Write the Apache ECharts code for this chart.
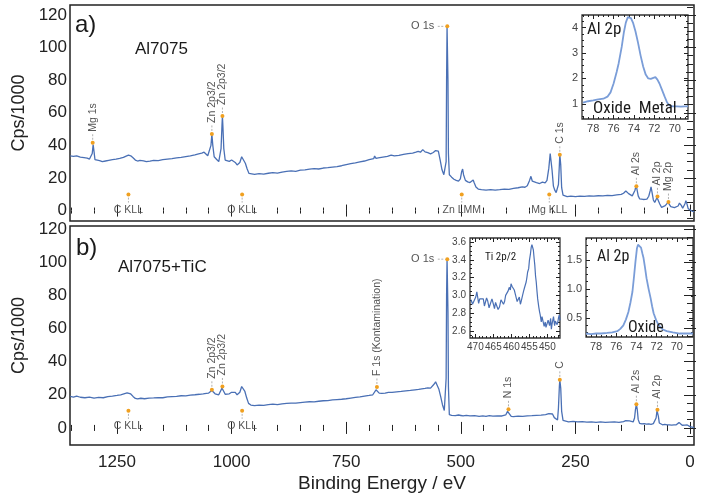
<!DOCTYPE html>
<html><head><meta charset="utf-8">
<script src="https://cdn.jsdelivr.net/npm/echarts@6/dist/echarts.min.js"></script>
<style>html,body{margin:0;padding:0;background:#fff}#c{width:708px;height:498px}</style>
</head><body><div id="c"></div>
<script>
// ---------- DATA ----------
// Panel a) Al7075 survey spectrum: [binding energy eV, Cps/1000]
const specA = [[1352,33.5],[1345,33.2],[1338,33.6],[1330,32.8],[1322,32.5],[1315,32.2],[1310,31.6],[1306,31.0],[1304,35],[1302,40.5],[1300,36],[1298,31.2],[1294,30.2],[1288,30.6],[1282,30.0],[1275,30.4],[1268,30.8],[1260,31.2],[1252,31.5],[1244,32.0],[1236,32.6],[1230,33.4],[1225,34.0],[1220,33.6],[1215,32.4],[1210,31.0],[1205,30.4],[1200,30.8],[1196,31.3],[1192,30.5],[1186,30.0],[1178,30.3],[1170,30.8],[1160,30.6],[1150,31.2],[1140,31.6],[1130,31.9],[1120,32.3],[1110,32.6],[1100,33.1],[1090,33.6],[1080,34.2],[1072,34.8],[1065,35.2],[1060,35.8],[1056,35.0],[1052,33.6],[1048,34.5],[1045,40],[1043,47],[1041,40],[1038,33],[1033,31.5],[1028,30.0],[1025,29.5],[1023,38],[1021,52],[1020,58],[1019,52],[1017,38],[1014,31],[1010,29.8],[1005,30.2],[1000,31.0],[996,31.4],[992,29.5],[988,28.0],[985,27.2],[982,29.5],[978,33.0],[975,32.4],[970,29],[966,25.5],[962,22.8],[958,22.0],[950,22.2],[940,22.6],[930,22.4],[920,22.9],[910,23.3],[900,23.0],[890,23.6],[880,24.0],[870,24.3],[860,24.1],[850,24.8],[840,25.0],[830,25.4],[820,25.7],[810,25.5],[800,26.1],[790,26.3],[780,26.7],[770,27.0],[760,27.5],[750,28.2],[740,28.8],[730,29.2],[720,29.8],[710,30.4],[700,31.2],[690,31.8],[688,33.5],[685,32.0],[680,32.3],[670,32.8],[660,33.2],[652,34.0],[645,33.5],[635,33.8],[625,34.5],[615,34.9],[605,35.2],[598,35.8],[593,36.3],[588,35.8],[583,37.4],[578,36.0],[572,35.5],[566,34.8],[560,35.6],[555,36.8],[552,37.8],[549,36.5],[545,31],[541,25],[537,22],[534,20.8],[532,30],[531,80],[530,113],[529,113],[528,80],[527,35],[525,22],[520,20.5],[515,19.2],[510,18.5],[505,18.0],[501,19.5],[498,24],[496,25.5],[494,22],[490,18.5],[485,17.6],[480,17.2],[476,17.6],[473,18.8],[471,17.2],[467,14.5],[462,13.2],[455,12.8],[445,12.6],[435,12.9],[425,12.5],[415,12.8],[405,13.2],[395,13.0],[385,13.6],[375,14.0],[366,14.6],[360,14.3],[355,15.2],[350,18.5],[347,21],[344,18.0],[340,16.8],[335,17.2],[328,16.6],[322,17.4],[316,17.0],[312,18.5],[308,26],[305,35],[303,34],[301,25],[298,15],[295,12.5],[292,11.0],[290,10.8],[287,16],[285,28],[284,34.5],[282,28],[280,14],[277,9.5],[274,8.7],[268,8.6],[260,8.8],[250,8.5],[240,8.9],[230,8.7],[220,9.0],[210,8.8],[200,9.1],[190,9.0],[180,9.3],[170,9.2],[160,9.6],[150,9.9],[145,10.6],[140,12.0],[137,12.4],[134,10.4],[130,9.3],[126,9.0],[123,9.6],[120,12.5],[118,15.0],[116,13.5],[113,9.0],[110,7.2],[106,6.6],[102,6.8],[98,6.6],[94,7.0],[90,8.8],[87,12.0],[85,14.5],[83,11.5],[80,6.5],[77,5.0],[74,5.6],[72,8.0],[71,8.7],[69,7.2],[66,4.0],[62,2.0],[58,2.2],[54,3.0],[50,4.2],[48,5.0],[46,4.6],[42,2.4],[38,1.6],[34,1.8],[30,1.7],[26,2.8],[23,4.6],[21,5.0],[19,3.2],[16,1.4],[13,2.2],[11,4.2],[9,6.0],[7,4.4],[4,1.2],[0,0.2],[-4,-0.3],[-9,-0.6]];

// Panel b) Al7075+TiC survey spectrum
const specB = [[1352,19.0],[1345,18.6],[1338,19.2],[1330,18.5],[1320,18.2],[1310,18.6],[1300,18.0],[1290,18.4],[1280,18.2],[1270,18.9],[1260,19.2],[1250,19.6],[1242,20.0],[1235,20.6],[1228,21.2],[1224,21.4],[1220,20.5],[1215,19.0],[1210,17.8],[1205,17.5],[1198,17.9],[1190,17.6],[1180,18.0],[1170,18.1],[1160,18.3],[1150,18.2],[1140,18.7],[1130,18.9],[1120,19.0],[1110,19.4],[1100,19.3],[1090,19.8],[1080,20.0],[1070,20.3],[1062,20.6],[1055,20.9],[1050,21.0],[1046,21.6],[1043,22.6],[1040,21.4],[1036,20.6],[1032,20.2],[1028,20.0],[1024,21.0],[1021,24.0],[1019,24.6],[1017,22],[1014,20.3],[1010,20.1],[1005,20.6],[1000,21.5],[996,22.3],[992,21.5],[988,20.0],[985,19.4],[982,21.5],[978,25.0],[975,25.2],[971,22],[967,18],[963,14.8],[958,13.8],[950,13.5],[940,13.8],[930,13.6],[920,14.0],[910,14.3],[900,14.1],[890,14.5],[880,14.8],[870,15.0],[860,14.9],[850,15.3],[840,15.6],[830,15.8],[820,15.7],[810,16.1],[800,16.4],[790,16.5],[780,16.9],[770,17.1],[760,17.3],[750,17.6],[740,18.0],[730,18.4],[720,18.7],[710,19.2],[700,19.6],[692,20.0],[688,20.4],[685,23.0],[683,24.0],[681,22.5],[678,21.0],[672,20.8],[665,21.0],[658,21.5],[650,21.4],[640,21.8],[630,22.0],[620,22.4],[610,22.6],[600,23.0],[592,23.2],[585,23.6],[578,23.8],[572,24.2],[566,24.0],[562,25.0],[558,26.5],[555,27.8],[552,27.0],[548,23.5],[544,19],[540,14],[536,10.5],[534,9.8],[532,30],[531,80],[530,102],[529,102],[528,70],[527,25],[525,8.0],[520,7.6],[512,7.4],[505,7.8],[500,7.5],[495,7.2],[488,7.6],[480,7.3],[470,7.4],[460,7.0],[452,7.3],[445,7.0],[438,7.4],[430,7.1],[420,7.3],[410,7.2],[402,7.8],[398,10.0],[396,11.2],[394,9.0],[390,7.0],[385,6.8],[375,7.1],[365,7.0],[355,7.3],[345,7.4],[335,7.6],[325,7.7],[315,8.0],[308,8.6],[304,9.0],[300,8.4],[296,6.2],[292,5.0],[289,4.8],[287,12],[285,25],[284,29],[282,24],[280,10],[277,4.5],[273,4.0],[265,3.7],[255,3.9],[245,3.6],[235,3.8],[225,3.5],[215,3.7],[205,3.4],[195,3.6],[185,3.4],[175,3.5],[165,3.6],[155,3.4],[145,3.8],[140,4.4],[136,5.0],[132,4.2],[128,3.4],[124,3.6],[121,6],[119,11],[117,14.3],[115,11],[113,5],[110,2.8],[105,2.4],[100,2.6],[95,2.3],[90,2.5],[85,2.2],[80,2.6],[76,3.2],[74,6],[72,10.5],[71,10.9],[69,7],[67,3],[64,2.0],[60,1.9],[55,2.1],[50,1.8],[45,1.9],[40,1.7],[35,1.8],[30,1.9],[26,2.4],[24,3.2],[22,3.5],[20,2.8],[17,1.6],[14,1.5],[11,1.7],[8,2.2],[6,1.8],[3,1.2],[0,0.8],[-4,0.4],[-9,0.2]];

// Insets
const insetAlA = [[79.0,1.05],[78.5,1.1],[78.0,1.13],[77.5,1.17],[77.0,1.2],[76.6,1.28],[76.3,1.45],[76.0,1.8],[75.7,2.25],[75.5,2.6],[75.2,3.25],[75.0,3.8],[74.8,4.2],[74.6,4.42],[74.45,4.45],[74.3,4.38],[74.1,4.2],[73.85,3.85],[73.6,3.4],[73.35,2.9],[73.1,2.47],[72.85,2.15],[72.6,2.0],[72.35,1.98],[72.1,2.02],[71.9,2.05],[71.7,1.95],[71.5,1.8],[71.25,1.55],[71.0,1.29],[70.75,1.05],[70.5,0.93],[70.2,0.9],[69.8,0.9],[69.4,0.89],[69.0,0.9],[68.7,0.9]];
const insetTi = [[471.2,2.95],[470.8,2.9],[470.3,2.91],[469.9,2.98],[469.6,3.04],[469.1,2.91],[468.8,2.96],[468.4,2.94],[467.8,2.96],[467.5,2.88],[467.2,2.89],[466.9,2.97],[466.6,2.94],[466.2,2.86],[465.9,2.87],[465.4,2.96],[465.0,2.9],[464.7,2.85],[464.4,2.92],[464.1,2.93],[463.7,2.84],[463.3,2.87],[462.9,2.95],[462.6,2.96],[462.2,2.9],[461.9,2.93],[461.6,3.0],[461.3,3.02],[460.9,3.05],[460.6,3.09],[460.3,3.06],[460.1,3.13],[459.8,3.1],[459.6,3.09],[459.2,3.06],[458.9,3.01],[458.7,3.0],[458.4,2.93],[458.2,2.945],[457.8,2.98],[457.5,2.9],[457.3,2.93],[456.9,3.0],[456.6,3.05],[456.4,3.08],[455.9,3.15],[455.7,3.2],[455.5,3.26],[455.2,3.3],[455.0,3.39],[454.7,3.47],[454.5,3.54],[454.3,3.57],[454.1,3.55],[453.9,3.51],[453.7,3.42],[453.5,3.34],[453.3,3.22],[453.1,3.15],[452.9,3.05],[452.7,2.96],[452.4,2.87],[452.2,2.82],[452.0,2.78],[451.7,2.70],[451.5,2.76],[451.3,2.74],[450.9,2.65],[450.6,2.70],[450.4,2.64],[450.2,2.63],[449.8,2.72],[449.6,2.69],[449.4,2.66],[449.1,2.74],[448.9,2.62],[448.7,2.68],[448.3,2.76],[448.0,2.66],[447.8,2.71],[447.6,2.73],[447.3,2.67],[447.1,2.70],[446.9,2.75],[446.7,2.78],[446.5,2.72]];
const insetAlB = [[79.0,0.23],[78.5,0.22],[78.0,0.23],[77.5,0.23],[76.9,0.24],[76.4,0.25],[75.9,0.27],[75.6,0.31],[75.3,0.37],[75.05,0.47],[74.8,0.6],[74.6,0.76],[74.4,0.95],[74.25,1.2],[74.1,1.47],[73.95,1.7],[73.85,1.76],[73.7,1.74],[73.55,1.71],[73.4,1.6],[73.3,1.53],[73.15,1.36],[73.0,1.18],[72.8,1.0],[72.6,0.84],[72.45,0.7],[72.3,0.58],[72.05,0.46],[71.8,0.37],[71.4,0.3],[71.0,0.27],[70.4,0.25],[69.7,0.23],[69.1,0.23],[68.4,0.23]];

// Peak annotations: [label, eV, marker value, kind]
const annA = [['Mg 1s',1303,41.6,'up'],['Zn 2p3/2',1043,47,'up'],['Zn 2p3/2',1020,58,'up'],['O 1s',529.5,113,'left'],['C 1s',284,34.2,'up'],['Al 2s',117,14.9,'up'],['Al 2p',71,8.7,'up'],['Mg 2p',47,5.2,'up'],['C KLL',1225,9.8,'down'],['O KLL',977,9.8,'down'],['Zn LMM',498,9.8,'down'],['Mg KLL',307,9.8,'down']];
const annB = [['Zn 2p3/2',1043,23,'up'],['Zn 2p3/2',1020,25,'up'],['F 1s (Kontamination)',683,24.7,'up'],['O 1s',529.5,101.8,'left'],['N 1s',396,11.2,'up'],['C',284,29,'up'],['Al 2s',117,14.3,'up'],['Al 2p',71,10.9,'up'],['C KLL',1225,10.3,'down'],['O KLL',977,10.3,'down']];

// Tick values
const mainXTicks = [0,250,500,750,1000,1250];
const mainYTicks = [0,20,40,60,80,100,120];
const alXTicks = [70,72,74,76,78];
const alAYTicks = [1,2,3,4];
const tiXTicks = [450,455,460,465,470];
const tiYTicks = [2.6,2.8,3.0,3.2,3.4,3.6];
const alBYTicks = [0.5,1.0,1.5];

// ---------- CHART ----------
const FONT = '"Liberation Sans", Arial, sans-serif';
const NARROW = '"Liberation Sans Narrow", "Roboto Condensed", "Liberation Sans", sans-serif';
const range = (a,b,s) => { const r=[]; for (let v=a; v<=b+1e-9; v+=s) r.push(+v.toFixed(3)); return r; };

const xAxes = [], yAxes = [];
function addAxes(grid, xr, yr, o) {
  const tick = (vals, len) => ({show:true, inside:true, length:len, customValues:vals, lineStyle:{color:'#222', width:1}});
  const lab = (vals, margin, fmt, show) => ({show, customValues:vals, margin, fontSize:o.fs, color:o.lc, fontFamily:FONT,
    formatter:fmt || (v => String(v)), hideOverlap:false, showMinLabel:true, showMaxLabel:true});
  const xb = {type:'value', gridIndex:grid, min:xr[0], max:xr[1], inverse:true, splitLine:{show:false}, axisLine:{show:false}};
  const yb = {type:'value', gridIndex:grid, min:yr[0], max:yr[1], splitLine:{show:false}, axisLine:{show:false}};
  const xi = xAxes.length, yi = yAxes.length;
  xAxes.push(Object.assign({}, xb, {position:'bottom', axisTick:tick(o.xMaj,o.majLen),
    axisLabel:lab(o.xMaj, o.xMargin, o.xFmt, o.xLabels !== false)}, o.xName||{}));
  xAxes.push(Object.assign({}, xb, {position:'bottom', axisTick:tick(o.xMin,o.minLen), axisLabel:{show:false}}));
  xAxes.push(Object.assign({}, xb, {position:'top', axisTick:tick(o.xMaj,o.majLen), axisLabel:{show:false}}));
  xAxes.push(Object.assign({}, xb, {position:'top', axisTick:tick(o.xMin,o.minLen), axisLabel:{show:false}}));
  yAxes.push(Object.assign({}, yb, {position:'left', axisTick:tick(o.yMaj,o.majLen),
    axisLabel:lab(o.yMaj, o.yMargin, o.yFmt, true)}, o.yName||{}));
  yAxes.push(Object.assign({}, yb, {position:'left', axisTick:tick(o.yMin,o.minLen), axisLabel:{show:false}}));
  yAxes.push(Object.assign({}, yb, {position:'right', axisTick:tick(o.yMaj,o.majLen), axisLabel:{show:false}}));
  yAxes.push(Object.assign({}, yb, {position:'right', axisTick:tick(o.yMin,o.minLen), axisLabel:{show:false}}));
  return {x:xi, y:yi};
}
const yName = {name:'Cps/1000', nameLocation:'middle', nameGap:29, nameRotate:90,
  nameTextStyle:{fontSize:18, color:'#222', fontFamily:FONT}};
const mainOpts = {xMaj:mainXTicks, xMin:range(0,1350,50), yMaj:mainYTicks, yMin:range(-5,125,5),
  majLen:6, minLen:3, fs:17, lc:'#222', xMargin:9, yMargin:3};
const axA = addAxes(0, [-8.7,1352.5], [-6.4,126.1], Object.assign({}, mainOpts, {yName, xLabels:false}));
const axB = addAxes(1, [-8.7,1352.5], [-10.3,121.8], Object.assign({}, mainOpts, {yName,
  xName:{name:'Binding Energy / eV', nameLocation:'middle', nameGap:29, nameTextStyle:{fontSize:19, color:'#222', fontFamily:FONT}}}));
const insOpts = {majLen:4, minLen:2, fs:11, lc:'#444', xMargin:4, yMargin:4};
const axIA = addAxes(2, [68.7,79.1], [0.4,4.5], Object.assign({}, insOpts, {xMaj:alXTicks, xMin:range(69,79,0.5), yMaj:alAYTicks, yMin:range(0.5,4.5,0.25)}));
const axIT = addAxes(3, [446.5,471.5], [2.52,3.645], Object.assign({}, insOpts, {fs:10, xMaj:tiXTicks, xMin:range(447,471,1), yMaj:tiYTicks, yMin:range(2.55,3.65,0.05), yFmt:v=>v.toFixed(1)}));
const axIB = addAxes(4, [68.4,79.0], [0.17,1.876], Object.assign({}, insOpts, {xMaj:alXTicks, xMin:range(69,79,0.5), yMaj:alBYTicks, yMin:range(0.25,1.85,0.125), yFmt:v=>v.toFixed(1)}));

function annSeries(list, ax) {
  return {
    type:'custom', xAxisIndex:ax.x, yAxisIndex:ax.y, z:5, silent:true,
    data: list.map(a => [a[1], a[2]]),
    encode:{x:0, y:1},
    renderItem(params, api) {
      const a = list[params.dataIndex];
      const p = api.coord([api.value(0), api.value(1)]);
      const lc = {stroke:'#b0b0b0', lineWidth:1, lineDash:[2,1.5]};
      const ts = {text:a[0], font:'10.5px ' + FONT, fill:'#555'};
      const ch = [];
      if (a[3] === 'up') {
        ch.push({type:'line', shape:{x1:p[0], y1:p[1]-3, x2:p[0], y2:p[1]-9}, style:lc});
        ch.push({type:'text', x:p[0], y:p[1]-11, rotation:Math.PI/2, style:Object.assign(ts,{align:'left', verticalAlign:'middle'})});
      } else if (a[3] === 'down') {
        ch.push({type:'line', shape:{x1:p[0], y1:p[1]+3, x2:p[0], y2:p[1]+8}, style:lc});
        ch.push({type:'text', x:p[0], y:p[1]+10, style:Object.assign(ts,{align:'center', verticalAlign:'top'})});
      } else {
        ch.push({type:'line', shape:{x1:p[0]-4, y1:p[1], x2:p[0]-11, y2:p[1]}, style:lc});
        ch.push({type:'text', x:p[0]-13, y:p[1], style:Object.assign(ts,{align:'right', verticalAlign:'middle', font:'11px ' + FONT})});
      }
      ch.push({type:'circle', shape:{cx:p[0], cy:p[1], r:2}, style:{fill:'#f0a020'}});
      return {type:'group', children:ch};
    }
  };
}
const lineS = (data, ax, color, w) => ({type:'line', data, xAxisIndex:ax.x, yAxisIndex:ax.y, showSymbol:false, symbol:'none',
  lineStyle:{color, width:w}, silent:true});

const gridBorder = {show:true, borderColor:'#222', borderWidth:1.5, backgroundColor:'rgba(0,0,0,0)'};
const insetBorder = {show:true, borderColor:'#333', borderWidth:1.3, backgroundColor:'#fff'};
const txt = (t, left, top, size, fam) => ({type:'text', left, top, z:10, style:{text:t, font:size+'px '+(fam||FONT), fill:'#1a1a1a'}});

const chart = echarts.init(document.getElementById('c'), null, {renderer:'canvas'});
chart.setOption({
  animation:false,
  backgroundColor:'#fff',
  grid:[
    Object.assign({left:70, top:5, width:624, height:216}, gridBorder),
    Object.assign({left:70, top:226, width:624, height:219}, gridBorder),
    Object.assign({left:582, top:15, width:106, height:104}, insetBorder),
    Object.assign({left:470, top:238, width:90, height:100}, insetBorder),
    Object.assign({left:586, top:238, width:107, height:99}, insetBorder)
  ],
  xAxis:xAxes, yAxis:yAxes,
  series:[
    lineS(specA, axA, '#4a70b5', 1.3),
    lineS(specB, axB, '#4a70b5', 1.3),
    lineS(insetAlA, axIA, '#7a9dd8', 1.8),
    lineS(insetTi, axIT, '#4a70b5', 1.2),
    lineS(insetAlB, axIB, '#7a9dd8', 1.8),
    annSeries(annA, axA),
    annSeries(annB, axB)
  ],
  graphic:[
    txt('a)', 75, 13, 24),
    txt('Al7075', 135, 41, 17),
    txt('b)', 76, 236, 24),
    txt('Al7075+TiC', 118, 259, 17),
    txt('Al 2p', 587, 21, 17, NARROW),
    txt('Oxide  Metal', 593, 100, 17, NARROW),
    txt('Ti 2p/2', 485, 252, 11, NARROW),
    txt('Al 2p', 597, 249, 16, NARROW),
    txt('Oxide', 628, 320, 16, NARROW)
  ]
});
</script></body></html>
